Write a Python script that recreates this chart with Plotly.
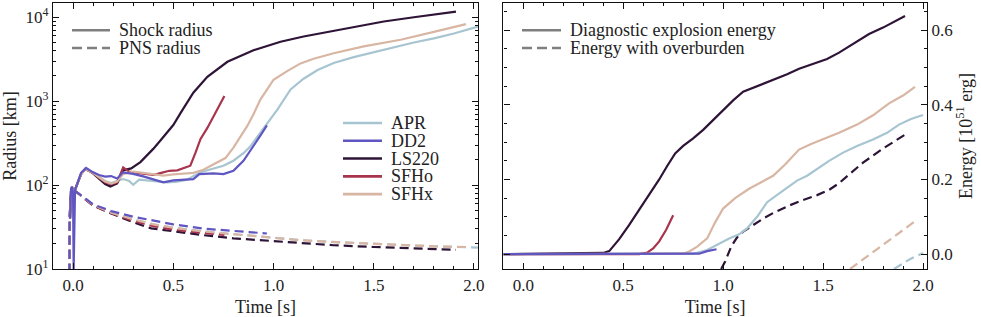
import plotly.graph_objects as go

# ---------------- data ----------------
eos_names = ["APR", "DD2", "LS220", "SFHo", "SFHx"]
eos_colors = {"APR": "#a7c5d1", "DD2": "#5f56c2", "LS220": "#2e1437",
              "SFHo": "#a8344d", "SFHx": "#d8b6a3"}

# shock radius [km] vs time [s]
apr_shock_t = [-0.015, -0.01, -0.005, 0.0, 0.01, 0.02, 0.04, 0.06, 0.08, 0.1, 0.13, 0.16, 0.19, 0.22, 0.25,
               0.28, 0.30, 0.33, 0.37, 0.42, 0.47, 0.52, 0.57, 0.6, 0.635, 0.67, 0.72, 0.75, 0.8, 0.85, 0.885,
               0.92, 0.97, 1.02, 1.085, 1.15, 1.22, 1.3, 1.4, 1.5, 1.6, 1.7, 1.8, 1.9, 2.02]
apr_shock_r = [40, 85, 95, 82, 88, 100, 135, 155, 148, 140, 125, 112, 106, 112, 118,
               112, 101, 116, 114, 111, 108, 110, 116, 128, 142, 150, 162, 170, 195, 240, 290,
               380, 560, 800, 1380, 1850, 2350, 2850, 3350, 3850, 4400, 5000, 5600, 6400, 7750]

dd2_shock_t = [-0.015, -0.01, -0.005, 0.0, 0.003, 0.007, 0.01, 0.02, 0.04, 0.065, 0.08, 0.1, 0.13, 0.16,
               0.19, 0.22, 0.25, 0.3, 0.35, 0.4, 0.45, 0.5, 0.55, 0.6, 0.63, 0.66, 0.7, 0.75, 0.8, 0.85,
               0.9, 0.935, 0.967]
dd2_shock_r = [40, 90, 96, 80, 10, 85, 88, 102, 140, 160, 152, 142, 132, 126,
               128, 120, 142, 136, 127, 117, 108, 114, 116, 118, 135, 137, 138, 135, 148, 195,
               290, 390, 515]

ls220_shock_t = [-0.015, -0.01, -0.005, 0.0, 0.01, 0.02, 0.04, 0.06, 0.08, 0.1, 0.13, 0.16, 0.186, 0.22,
                 0.25, 0.29, 0.336, 0.37, 0.4, 0.44, 0.47, 0.5, 0.536, 0.6, 0.67, 0.77, 0.9, 1.035, 1.15,
                 1.3, 1.45, 1.55, 1.7, 1.8, 1.91]
ls220_shock_r = [40, 85, 95, 82, 88, 100, 135, 155, 148, 138, 118, 103, 96, 105,
                 150, 158, 188, 225, 270, 350, 427, 520, 720, 1260, 1950, 2950, 4050, 5100, 5900,
                 6900, 8000, 8900, 10000, 10800, 11700]

sfho_shock_t = [-0.015, -0.01, -0.005, 0.0, 0.01, 0.02, 0.04, 0.06, 0.08, 0.1, 0.13, 0.16, 0.19, 0.22,
                0.25, 0.28, 0.32, 0.36, 0.4, 0.44, 0.48, 0.52, 0.56, 0.585, 0.61, 0.636, 0.67, 0.70,
                0.73, 0.755]
sfho_shock_r = [40, 85, 95, 82, 88, 100, 135, 155, 148, 140, 122, 108, 102, 108,
                162, 145, 140, 135, 132, 140, 148, 150, 160, 170, 240, 355, 480, 660,
                880, 1150]

sfhx_shock_t = [-0.015, -0.01, -0.005, 0.0, 0.01, 0.02, 0.04, 0.06, 0.08, 0.1, 0.13, 0.16, 0.19, 0.22,
                0.25, 0.3, 0.35, 0.4, 0.45, 0.5, 0.55, 0.6, 0.65, 0.72, 0.76, 0.8, 0.84, 0.87, 0.9,
                0.935, 0.97, 1.0, 1.07, 1.135, 1.2, 1.3, 1.45, 1.634, 1.8, 1.96]
sfhx_shock_r = [40, 85, 95, 82, 88, 100, 135, 155, 148, 140, 124, 110, 104, 110,
                135, 145, 140, 135, 130, 134, 136, 140, 152, 186, 210, 280, 400, 510, 700,
                1050, 1400, 1800, 2300, 2820, 3200, 3730, 4500, 5400, 6700, 8300]

# PNS radius [km] vs time [s]
apr_pns_t = [-0.018, -0.017, -0.012, -0.005, 0.01, 0.02, 0.05, 0.1, 0.19, 0.3, 0.4, 0.5, 0.65, 0.8, 1.0,
             1.135, 1.3, 1.5, 1.634, 1.8, 2.02]
apr_pns_r = [9, 40, 70, 85, 85, 82, 72, 58, 47, 39, 34, 31, 28, 26, 23.5,
             22.1, 21, 20, 19.3, 18.6, 18.0]

dd2_pns_t = [-0.018, -0.017, -0.012, -0.005, 0.01, 0.02, 0.05, 0.1, 0.19, 0.3, 0.39, 0.5, 0.65, 0.8, 0.967]
dd2_pns_r = [9, 40, 70, 85, 85, 82, 73, 59, 49, 42, 38, 34, 30.3, 28.2, 26.5]

ls220_pns_t = [-0.018, -0.017, -0.012, -0.005, 0.01, 0.02, 0.05, 0.1, 0.19, 0.3, 0.39, 0.5, 0.65, 0.8,
               1.0, 1.135, 1.3, 1.5, 1.7, 1.88, 1.91]
ls220_pns_r = [9, 40, 70, 85, 85, 82, 71, 57, 46, 36, 30.5, 28, 25.3, 23.2,
               21.5, 20.2, 19.2, 18.3, 17.6, 17.0, 16.9]

sfho_pns_t = [-0.018, -0.017, -0.012, -0.005, 0.01, 0.02, 0.05, 0.1, 0.19, 0.3, 0.4, 0.5, 0.65, 0.755]
sfho_pns_r = [9, 40, 70, 85, 85, 82, 71, 57, 46.5, 37.5, 32.5, 29.5, 26.8, 25.5]

sfhx_pns_t = [-0.018, -0.017, -0.012, -0.005, 0.01, 0.02, 0.05, 0.1, 0.19, 0.3, 0.4, 0.5, 0.65, 0.8, 1.0,
              1.135, 1.3, 1.5, 1.634, 1.8, 1.96]
sfhx_pns_r = [9, 40, 70, 85, 85, 82, 72, 58, 47, 39, 34, 31, 28, 26, 23.5,
              22.0, 20.9, 19.9, 19.2, 18.6, 18.3]

# diagnostic explosion energy [1e51 erg] vs time [s]
apr_e_t = [-0.1, 0.85, 0.92, 0.97, 1.03, 1.08, 1.12, 1.17, 1.22, 1.3, 1.37, 1.42, 1.47, 1.53, 1.6, 1.67,
           1.75, 1.82, 1.88, 1.94, 2.0]
apr_e = [0.0, 0.001, 0.011, 0.025, 0.042, 0.053, 0.069, 0.1, 0.139, 0.17, 0.197, 0.21, 0.228, 0.25, 0.272,
         0.29, 0.307, 0.325, 0.347, 0.362, 0.373]

dd2_e_t = [-0.1, 0.88, 0.92, 0.967]
dd2_e = [0.0, 0.001, 0.008, 0.013]

ls220_e_t = [-0.1, 0.35, 0.4, 0.43, 0.48, 0.53, 0.58, 0.63, 0.68, 0.72, 0.76, 0.8, 0.85, 0.9, 0.95, 1.0,
             1.05, 1.1, 1.17, 1.25, 1.32, 1.38, 1.45, 1.52, 1.58, 1.63, 1.67, 1.73, 1.8, 1.86, 1.91]
ls220_e = [0.0, 0.001, 0.003, 0.008, 0.04, 0.078, 0.118, 0.157, 0.2, 0.236, 0.27, 0.29, 0.31, 0.333, 0.36,
           0.386, 0.412, 0.435, 0.45, 0.466, 0.482, 0.497, 0.51, 0.523, 0.54, 0.556, 0.571, 0.59, 0.607,
           0.625, 0.638]

sfho_e_t = [-0.1, 0.58, 0.62, 0.65, 0.68, 0.715, 0.75]
sfho_e = [0.0, 0.0, 0.004, 0.015, 0.034, 0.065, 0.104]

sfhx_e_t = [-0.1, 0.8, 0.83, 0.87, 0.92, 0.96, 1.0, 1.06, 1.13, 1.19, 1.25, 1.31, 1.38, 1.44, 1.5, 1.58,
            1.67, 1.75, 1.83, 1.9, 1.96]
sfhx_e = [0.0, 0.001, 0.007, 0.02, 0.042, 0.085, 0.122, 0.15, 0.175, 0.193, 0.21, 0.24, 0.28, 0.295,
          0.307, 0.325, 0.347, 0.372, 0.404, 0.425, 0.448]

# energy with overburden [1e51 erg] vs time [s]
apr_eob_t = [1.855, 1.93, 2.0]
apr_eob = [-0.04, -0.015, 0.003]

ls220_eob_t = [0.99, 1.01, 1.04, 1.07, 1.1, 1.15, 1.2, 1.25, 1.33, 1.4, 1.47, 1.53, 1.58, 1.64, 1.7,
               1.8, 1.91]
ls220_eob = [-0.04, -0.02, 0.02, 0.045, 0.06, 0.078, 0.095, 0.11, 0.13, 0.145, 0.158, 0.172, 0.19,
             0.218, 0.245, 0.283, 0.32]

sfhx_eob_t = [1.635, 1.75, 1.86, 1.96]
sfhx_eob = [-0.04, 0.005, 0.048, 0.088]

shock = {"APR": (apr_shock_t, apr_shock_r), "DD2": (dd2_shock_t, dd2_shock_r),
         "LS220": (ls220_shock_t, ls220_shock_r), "SFHo": (sfho_shock_t, sfho_shock_r),
         "SFHx": (sfhx_shock_t, sfhx_shock_r)}
pns = {"APR": (apr_pns_t, apr_pns_r), "DD2": (dd2_pns_t, dd2_pns_r),
       "LS220": (ls220_pns_t, ls220_pns_r), "SFHo": (sfho_pns_t, sfho_pns_r),
       "SFHx": (sfhx_pns_t, sfhx_pns_r)}
energy = {"APR": (apr_e_t, apr_e), "DD2": (dd2_e_t, dd2_e), "LS220": (ls220_e_t, ls220_e),
          "SFHo": (sfho_e_t, sfho_e), "SFHx": (sfhx_e_t, sfhx_e)}
energy_ob = {"APR": (apr_eob_t, apr_eob), "LS220": (ls220_eob_t, ls220_eob), "SFHx": (sfhx_eob_t, sfhx_eob)}

x_ticks = [0.0, 0.5, 1.0, 1.5, 2.0]
r_ticks = [10, 100, 1000, 10000]
r_ticktext = ["10<sup>1</sup>", "10<sup>2</sup>", "10<sup>3</sup>", "10<sup>4</sup>"]
e_ticks = [0.0, 0.2, 0.4, 0.6]

# ---------------- figure ----------------
FONT = "Liberation Serif"
LW = 2.2
DASH = "9px,5px"
draw_order = ["APR", "LS220", "SFHo", "SFHx", "DD2"]

fig = go.Figure()
for name in draw_order:
    t, r = pns[name]
    fig.add_trace(go.Scatter(x=t, y=r, mode="lines", name=name + " PNS", showlegend=False,
                             line=dict(color=eos_colors[name], width=LW, dash=DASH),
                             xaxis="x", yaxis="y"))
for name in draw_order:
    t, r = shock[name]
    fig.add_trace(go.Scatter(x=t, y=r, mode="lines", name=name, showlegend=False,
                             line=dict(color=eos_colors[name], width=LW),
                             xaxis="x", yaxis="y"))
for name in draw_order:
    if name in energy_ob:
        t, e = energy_ob[name]
        fig.add_trace(go.Scatter(x=t, y=e, mode="lines", name=name + " overburden", showlegend=False,
                                 line=dict(color=eos_colors[name], width=LW, dash=DASH),
                                 xaxis="x2", yaxis="y2"))
for name in draw_order:
    t, e = energy[name]
    fig.add_trace(go.Scatter(x=t, y=e, mode="lines", name=name + " energy", showlegend=False,
                             line=dict(color=eos_colors[name], width=LW),
                             xaxis="x2", yaxis="y2"))

# ---- legends drawn as swatches + text (paper coords) ----
L, R_, T, B = 53, 927, 2, 271
def px(xp):
    return (xp - L) / (R_ - L)
def py(yp):
    return (B - yp) / (B - T)

shapes = []
annotations = []
def legend_item(x0, x1, xt, yc, text, color, dash=None):
    shapes.append(dict(type="line", xref="paper", yref="paper", x0=px(x0), x1=px(x1), y0=py(yc), y1=py(yc),
                       line=dict(color=color, width=2.6, dash=dash if dash else "solid")))
    annotations.append(dict(xref="paper", yref="paper", x=px(xt), y=py(yc), text=text, showarrow=False,
                            xanchor="left", yanchor="middle", font=dict(family=FONT, size=18, color="#222")))

legend_item(72, 110, 117, 29.5, "Shock radius", "#7f7f7f")
legend_item(72, 110, 117, 47.5, "PNS radius", "#7f7f7f", "10px,5px")
for i, name in enumerate(eos_names):
    legend_item(343, 382, 389, 123.3 + 18 * i, name, eos_colors[name])
legend_item(522, 561, 568, 29.5, "Diagnostic explosion energy", "#7f7f7f")
legend_item(522, 561, 568, 47.5, "Energy with overburden", "#7f7f7f", "10px,5px")

tickfont = dict(family=FONT, size=17, color="#222")
common_x = dict(range=[-0.1, 2.02], tickvals=x_ticks, tickformat=".1f", ticks="inside", ticklen=6,
                tickwidth=1.2, tickcolor="#111", showline=True, linecolor="#111", linewidth=1.4,
                mirror="ticks", showgrid=False, zeroline=False, tickfont=tickfont,
                minor=dict(ticks="inside", dtick=0.1, ticklen=3, tickwidth=1, tickcolor="#111"),
                title=dict(text="Time [s]", font=dict(family=FONT, size=18, color="#222"), standoff=8))

minor_r = [k * 10 ** n for n in range(1, 5) for k in range(2, 10)]

fig.update_layout(
    width=981, height=317,
    margin=dict(l=L, r=981 - R_, t=T, b=317 - B),
    paper_bgcolor="white", plot_bgcolor="white",
    showlegend=False,
    xaxis=dict(domain=[0, px(478)], anchor="y", **common_x),
    xaxis2=dict(domain=[px(503.3), 1], anchor="y2", **common_x),
    yaxis=dict(type="log", range=[1, 4.17], tickvals=r_ticks, ticktext=r_ticktext, anchor="x",
               ticks="inside", ticklen=6, tickwidth=1.2, tickcolor="#111", showline=True,
               linecolor="#111", linewidth=1.4, mirror="ticks", showgrid=False, zeroline=False,
               tickfont=tickfont,
               minor=dict(ticks="inside", tickvals=minor_r, ticklen=3, tickwidth=1, tickcolor="#111"),
               title=dict(text="Radius [km]", font=dict(family=FONT, size=18, color="#222"), standoff=4)),
    yaxis2=dict(range=[-0.04, 0.673], tickvals=e_ticks, tickformat=".1f", anchor="x2", side="right",
                ticks="inside", ticklen=6, tickwidth=1.2, tickcolor="#111", showline=True,
                linecolor="#111", linewidth=1.4, mirror="ticks", showgrid=False, zeroline=False,
                tickfont=tickfont,
                minor=dict(ticks="inside", dtick=0.05, ticklen=3, tickwidth=1, tickcolor="#111"),
                title=dict(text="Energy [10<sup>51</sup> erg]", font=dict(family=FONT, size=18, color="#222"),
                           standoff=6)),
    shapes=shapes, annotations=annotations,
)

fig.write_html("out.html", config={"displayModeBar": False},
               post_script="document.body.style.margin='0';")
